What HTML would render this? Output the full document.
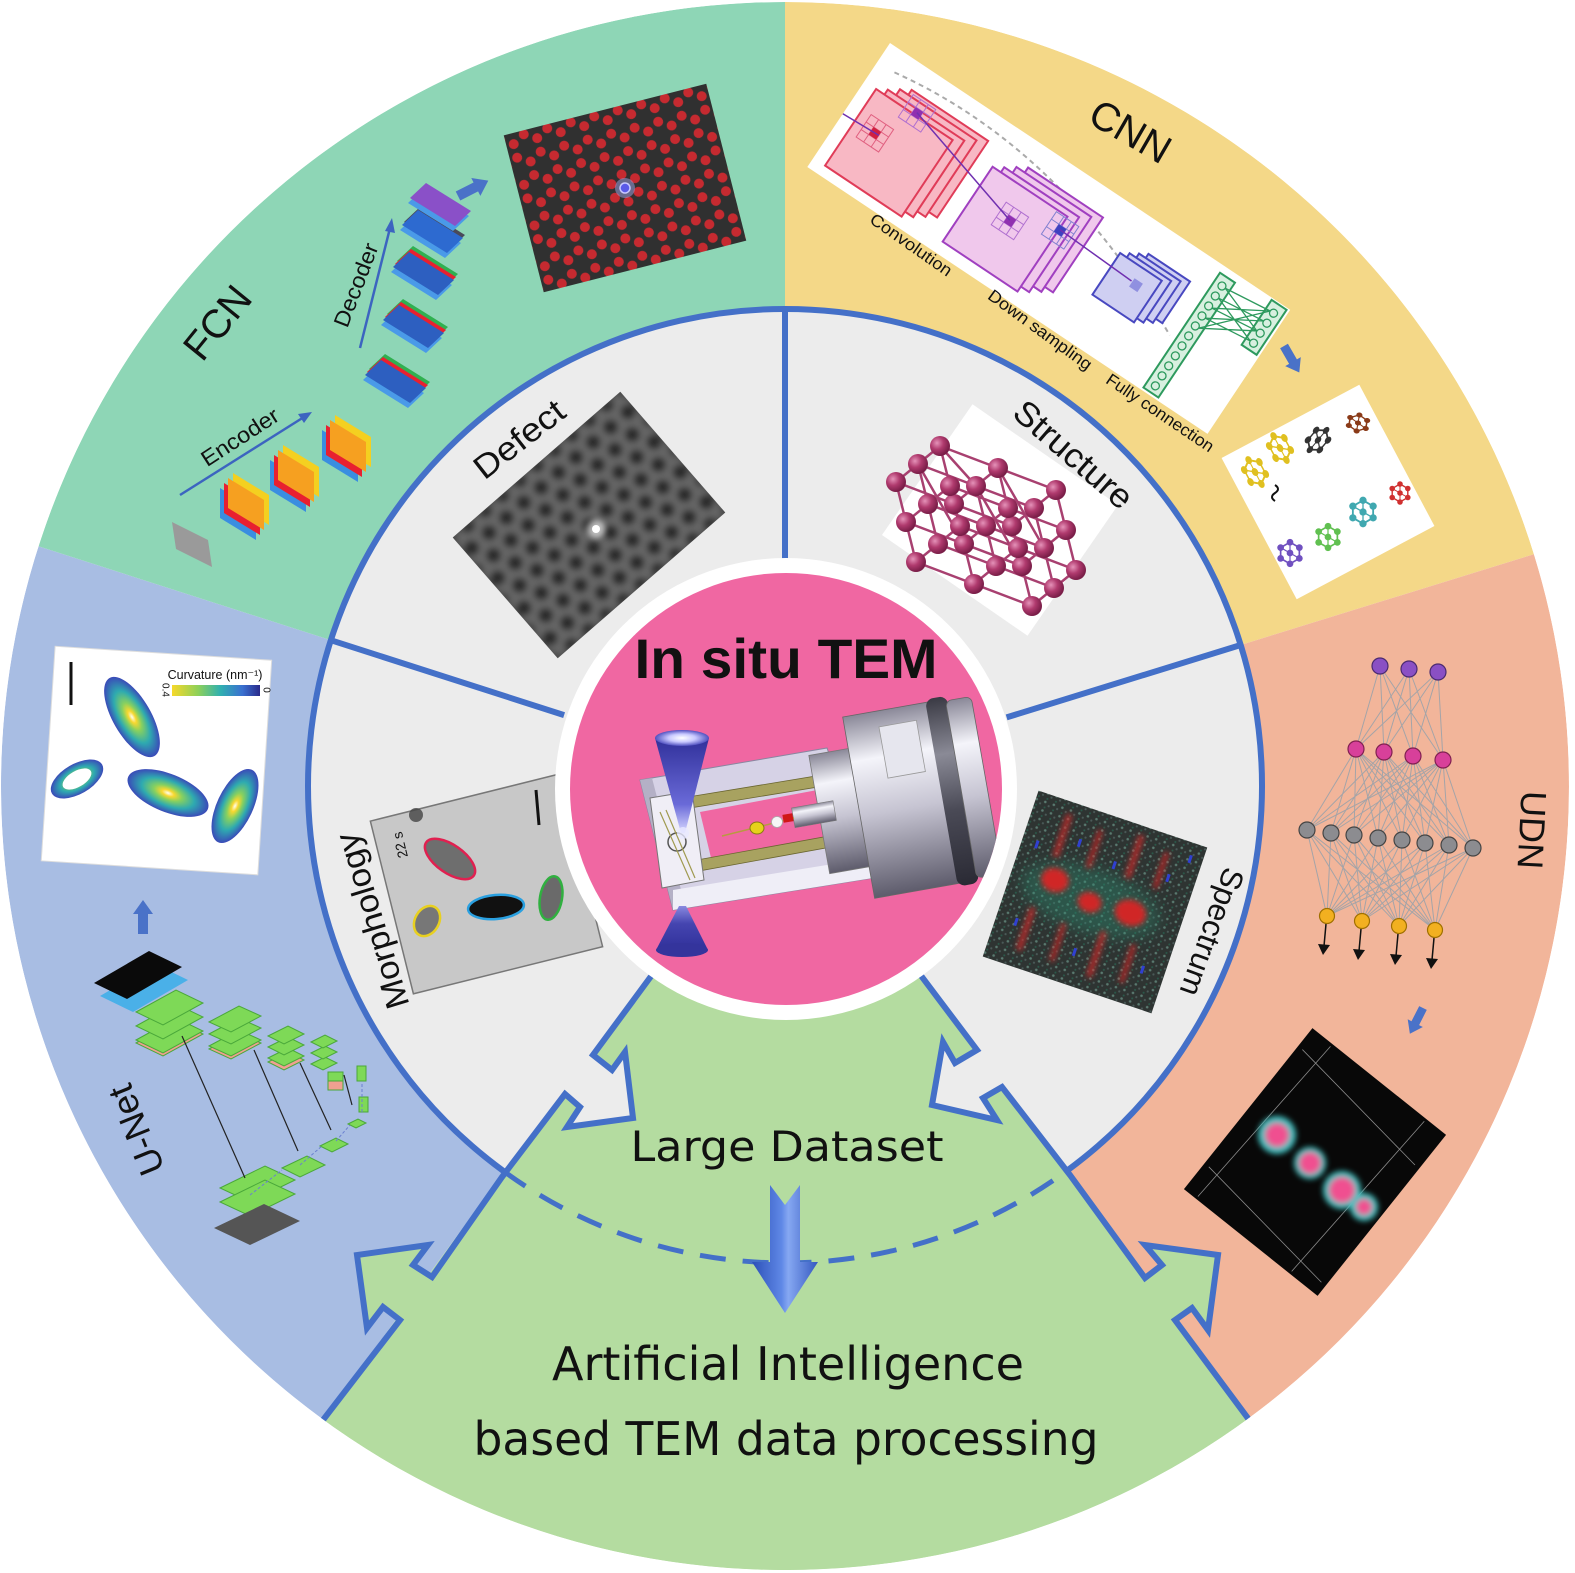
<!DOCTYPE html>
<html><head><meta charset="utf-8"><style>
html,body{margin:0;padding:0;background:#fff;}
svg{display:block;}
text{font-family:"Liberation Sans",sans-serif;fill:#111;}
</style></head><body>
<svg width="1575" height="1573" viewBox="0 0 1575 1573" xmlns="http://www.w3.org/2000/svg">
<defs>
 <clipPath id="outer"><circle cx="785" cy="786" r="784"/></clipPath>
 <clipPath id="pinkc"><circle cx="786" cy="789" r="216"/></clipPath>
 <clipPath id="defClip"><rect x="-111" y="-80" width="222" height="160"/></clipPath>
 <pattern id="lat" patternUnits="userSpaceOnUse" width="24.25" height="42">
  <rect width="24.25" height="42" fill="#303030"/>
  <circle cx="0" cy="14" r="5" fill="#c62a30"/><circle cx="24.25" cy="14" r="5" fill="#c62a30"/>
  <circle cx="0" cy="28" r="5" fill="#c62a30"/><circle cx="24.25" cy="28" r="5" fill="#c62a30"/>
  <circle cx="12.12" cy="7" r="5" fill="#c62a30"/><circle cx="12.12" cy="35" r="5" fill="#c62a30"/>
 </pattern>
 <pattern id="honey" patternUnits="userSpaceOnUse" width="23" height="39.8">
  <rect width="23" height="39.8" fill="#666666"/>
  <circle cx="0" cy="0" r="7.5" fill="#2a2a2a"/><circle cx="23" cy="0" r="7.5" fill="#2a2a2a"/>
  <circle cx="11.5" cy="19.9" r="7.5" fill="#2a2a2a"/>
  <circle cx="0" cy="39.8" r="7.5" fill="#2a2a2a"/><circle cx="23" cy="39.8" r="7.5" fill="#2a2a2a"/>
 </pattern>
 <pattern id="dots" patternUnits="userSpaceOnUse" width="9" height="9">
  <rect width="9" height="9" fill="#2e3432"/>
  <circle cx="2" cy="2" r="1.3" fill="#5a7a70"/><circle cx="6.5" cy="5" r="1.1" fill="#4a5a58"/><circle cx="3" cy="7.5" r="1" fill="#2a5a4a"/>
 </pattern>
 <filter id="b2" x="-10%" y="-10%" width="120%" height="120%"><feGaussianBlur stdDeviation="3.2"/></filter>
 <filter id="b6" x="-50%" y="-50%" width="200%" height="200%"><feGaussianBlur stdDeviation="7"/></filter>
 <filter id="b3" x="-50%" y="-50%" width="200%" height="200%"><feGaussianBlur stdDeviation="3"/></filter>
 <radialGradient id="rod" cx="0.5" cy="0.5" r="0.5">
  <stop offset="0" stop-color="#fffef0"/><stop offset="0.15" stop-color="#f8d830"/>
  <stop offset="0.35" stop-color="#86d060"/><stop offset="0.65" stop-color="#2eaab0"/>
  <stop offset="1" stop-color="#3a4ab8"/>
 </radialGradient>
 <linearGradient id="cbar" x1="0" x2="1" y1="0" y2="0">
  <stop offset="0" stop-color="#f6d82a"/><stop offset="0.3" stop-color="#8cd05a"/>
  <stop offset="0.55" stop-color="#30b0b0"/><stop offset="0.8" stop-color="#3a70d0"/><stop offset="1" stop-color="#2a2a8a"/>
 </linearGradient>
 <radialGradient id="sph" cx="0.35" cy="0.35" r="0.65">
  <stop offset="0" stop-color="#e592b8"/><stop offset="0.5" stop-color="#b03a6e"/><stop offset="1" stop-color="#7a1e48"/>
 </radialGradient>
 <linearGradient id="cyl" x1="0" x2="0" y1="0" y2="1">
  <stop offset="0" stop-color="#8a8898"/><stop offset="0.25" stop-color="#f4f4fa"/>
  <stop offset="0.55" stop-color="#c6c4d2"/><stop offset="1" stop-color="#5e5c6c"/>
 </linearGradient>
 <linearGradient id="cylDark" x1="0" x2="0" y1="0" y2="1">
  <stop offset="0" stop-color="#3a3a44"/><stop offset="0.3" stop-color="#8a8a96"/>
  <stop offset="0.6" stop-color="#4a4a56"/><stop offset="1" stop-color="#2a2a34"/>
 </linearGradient>
 <linearGradient id="beam1" x1="0" x2="0" y1="0" y2="1">
  <stop offset="0" stop-color="#30309a"/><stop offset="0.7" stop-color="#6a6ad8"/><stop offset="1" stop-color="#d8d8ff"/>
 </linearGradient>
 <linearGradient id="beam2" x1="0" x2="0" y1="0" y2="1">
  <stop offset="0" stop-color="#8a8ae0"/><stop offset="0.4" stop-color="#4545b0"/><stop offset="1" stop-color="#30309a"/>
 </linearGradient>
 <radialGradient id="beamTop" cx="0.5" cy="0.5" r="0.5">
  <stop offset="0" stop-color="#ffffff"/><stop offset="0.5" stop-color="#c8c8ff"/><stop offset="1" stop-color="#5050c0"/>
 </radialGradient>
 <linearGradient id="bigArrow" x1="0" x2="1" y1="0" y2="0">
  <stop offset="0" stop-color="#2c50b8"/><stop offset="0.45" stop-color="#5f88e6"/><stop offset="0.55" stop-color="#86a8f2"/><stop offset="1" stop-color="#3458c0"/>
 </linearGradient>
 <g id="mol"><polygon points="0,-9 7.8,-4.5 7.8,4.5 0,9 -7.8,4.5 -7.8,-4.5" fill="none" stroke="currentColor" stroke-width="1.4"/>
  <line x1="0" y1="-9" x2="0" y2="9" stroke="currentColor" stroke-width="1"/><line x1="-7.8" y1="-4.5" x2="7.8" y2="4.5" stroke="currentColor" stroke-width="1"/>
  <g fill="currentColor"><circle cx="0" cy="-9" r="2.8"/><circle cx="7.8" cy="-4.5" r="2.8"/><circle cx="7.8" cy="4.5" r="2.8"/><circle cx="0" cy="9" r="2.8"/><circle cx="-7.8" cy="4.5" r="2.8"/><circle cx="-7.8" cy="-4.5" r="2.8"/><circle cx="0" cy="0" r="2.8"/></g></g>
 <polygon id="blk" points="0,-5 20,-5 20,-10 34,0 20,10 20,5 0,5"/>
</defs>

<!-- outer sectors -->
<g clip-path="url(#outer)">
 <path d="M785,786 L785,2 A784,784 0 0 1 1533.9,554.2 Z" fill="#f4d888"/>
 <path d="M785,786 L1533.9,554.2 A784,784 0 0 1 1248,1418.7 Z" fill="#f2b59a"/>
 <path d="M785,786 L1248,1418.7 A784,784 0 0 1 323.1,1419.5 Z" fill="#b4dca0"/>
 <path d="M785,786 L323.1,1419.5 A784,784 0 0 1 38.5,546.3 Z" fill="#a8bde3"/>
 <path d="M785,786 L38.5,546.3 A784,784 0 0 1 785,2 Z" fill="#8ed6b6"/>
 <circle cx="785" cy="786" r="477" fill="#ececec"/>
 <path d="M785,880 L663,960 L593,1055 L612,1070 L625,1052 L633,1118 L567,1127 L580,1107 L565,1094 L502,1177 L432,1277 L413,1265 L428,1245 L357,1255 L367,1328 L383,1307 L400,1320 L323,1420 L290,1465 L785,1650 L1280,1465 L1247,1417 L1175,1320 L1192,1308 L1208,1330 L1218,1255 L1145,1245 L1162,1265 L1145,1278 L1070,1175 L1002,1087 L983,1098 L997,1120 L932,1105 L943,1042 L955,1063 L977,1050 L913,965 Z" fill="#b4dca0"/>
 <g fill="none" stroke="#4470c8" stroke-width="6" stroke-linejoin="miter">
  <path d="M504,1171.4 A477,477 0 1 1 1066.7,1170.9"/>
  <path d="M504,1171.4 A477,477 0 0 0 1066.7,1170.9" stroke-width="5" stroke-dasharray="26 17"/>
  <path d="M785,309 L785,560"/>
  <path d="M330.8,640.2 L564.1,715.1"/>
  <path d="M1240.7,645 L1006.6,717.4"/>
  <path d="M663,960 L593,1055 L612,1070 L625,1052 L633,1118 L567,1127 L580,1107 L565,1094 L502,1177 L432,1277 L413,1265 L428,1245 L357,1255 L367,1328 L383,1307 L400,1320 L323,1420 L300,1452"/>
  <path d="M913,965 L977,1050 L955,1063 L943,1042 L932,1105 L997,1120 L983,1098 L1002,1087 L1070,1175 L1145,1278 L1162,1265 L1145,1245 L1218,1255 L1208,1330 L1192,1308 L1175,1320 L1247,1417 L1270,1450"/>
 </g>
</g>

<!-- FCN sector -->
<g transform="translate(625,188) rotate(-14.3)">
 <rect x="-104.5" y="-81" width="209" height="162" fill="url(#lat)"/>
 <circle cx="0" cy="0" r="10" fill="#b0b4ff" opacity="0.45"/>
 <circle cx="0" cy="0" r="5" fill="#5a5ae8" stroke="#c8c8ff" stroke-width="1.5"/>
</g>
<use href="#blk" transform="translate(458,196) rotate(-27)" fill="#4a72c8"/>
<polygon points="172,522 208,540 212,567 176,549" fill="#9a9a9a"/>
<g>
 <g transform="translate(228,478)"><polygon points="5,-5 41,17 41,47 5,25" fill="#f4d020"/><polygon points="-8,10 28,32 28,62 -8,40" fill="#3a8ee0"/><polygon points="-4,5 32,27 32,57 -4,35" fill="#e82030"/><polygon points="0,0 36,22 36,52 0,30" fill="#f6a020"/></g>
 <g transform="translate(278,450)"><polygon points="5,-5 41,17 41,47 5,25" fill="#f4d020"/><polygon points="-8,10 28,32 28,62 -8,40" fill="#3a8ee0"/><polygon points="-4,5 32,27 32,57 -4,35" fill="#e82030"/><polygon points="0,0 36,22 36,52 0,30" fill="#f6a020"/></g>
 <g transform="translate(330,420)"><polygon points="5,-5 41,17 41,47 5,25" fill="#f4d020"/><polygon points="-8,10 28,32 28,62 -8,40" fill="#3a8ee0"/><polygon points="-4,5 32,27 32,57 -4,35" fill="#e82030"/><polygon points="0,0 36,22 36,52 0,30" fill="#f6a020"/></g>
</g>
<line x1="180" y1="495" x2="304" y2="417" stroke="#3c64c0" stroke-width="2.5"/>
<polygon points="312,412 298,414 304,423" fill="#3c64c0"/>
<text transform="translate(240,437) rotate(-33)" text-anchor="middle" dominant-baseline="central" font-size="22" textLength="88" lengthAdjust="spacingAndGlyphs">Encoder</text>
<g>
 <g transform="translate(365,360)"><polygon points="-2,20 14,5 59,33 43,48" fill="#4a9ae8"/><polygon points="4,9 20,-6 65,22 49,37" fill="#30b050"/><polygon points="2,12 18,-3 63,25 47,40" fill="#e82030"/><polygon points="0,15 16,0 61,28 45,43" fill="#2d5fc0"/></g>
 <g transform="translate(383,305)"><polygon points="-2,20 14,5 59,33 43,48" fill="#4a9ae8"/><polygon points="4,9 20,-6 65,22 49,37" fill="#30b050"/><polygon points="2,12 18,-3 63,25 47,40" fill="#e82030"/><polygon points="0,15 16,0 61,28 45,43" fill="#2d5fc0"/></g>
 <g transform="translate(393,252)"><polygon points="-2,20 14,5 59,33 43,48" fill="#4a9ae8"/><polygon points="4,9 20,-6 65,22 49,37" fill="#30b050"/><polygon points="2,12 18,-3 63,25 47,40" fill="#e82030"/><polygon points="0,15 16,0 61,28 45,43" fill="#2d5fc0"/></g>
 <g transform="translate(402,210)"><polygon points="-2,20 14,5 59,33 43,48" fill="#4a9ae8"/><polygon points="2,12 18,-3 63,25 47,40" fill="#4a4a5a"/><polygon points="0,15 16,0 61,28 45,43" fill="#2d6ad0"/></g>
 <g transform="translate(408,188)"><polygon points="0,15 16,0 61,28 45,43" fill="#4a9ae8"/><polygon points="2,10 18,-5 63,23 47,38" fill="#8a50c8"/></g>
</g>
<line x1="360" y1="348" x2="390" y2="228" stroke="#3c64c0" stroke-width="2.5"/>
<polygon points="392,218 385,231 395,233" fill="#3c64c0"/>
<text transform="translate(356,285) rotate(-69)" text-anchor="middle" dominant-baseline="central" font-size="22" textLength="88" lengthAdjust="spacingAndGlyphs">Decoder</text>
<text transform="translate(218,323) rotate(-51)" text-anchor="middle" dominant-baseline="central" font-size="40">FCN</text>

<!-- Defect -->
<g transform="translate(589,525) rotate(-41)">
 <rect x="-111" y="-80" width="222" height="160" fill="#4e4e4e"/>
 <rect x="-111" y="-80" width="222" height="160" fill="url(#honey)" filter="url(#b2)" clip-path="url(#defClip)"/>
</g>
<circle cx="596" cy="529" r="9" fill="#ffffff" opacity="0.6" filter="url(#b3)"/>
<circle cx="596" cy="529" r="4" fill="#ffffff"/>
<text transform="translate(519,439) rotate(-38)" text-anchor="middle" dominant-baseline="central" font-size="33" textLength="106" lengthAdjust="spacingAndGlyphs">Defect</text>

<!-- CNN panel -->
<g transform="translate(890,43) rotate(33.7)">
 <rect x="0" y="0" width="481" height="149" fill="#ffffff"/>
 <path d="M20,22 Q200,-8 395,88" fill="none" stroke="#aaa" stroke-width="2" stroke-dasharray="5 4"/>
 <g fill="#f8b8c4" stroke="#e03c58" stroke-width="2">
  <rect x="44" y="27" width="92" height="92"/><rect x="34" y="33" width="92" height="92"/><rect x="24" y="40" width="92" height="92"/><rect x="14" y="46" width="92" height="92"/>
 </g>
 <g fill="#f0c8ec" stroke="#a040c0" stroke-width="2">
  <rect x="184" y="27" width="90" height="90"/><rect x="174" y="33" width="90" height="90"/><rect x="164" y="40" width="90" height="90"/><rect x="154" y="46" width="90" height="90"/>
 </g>
 <g fill="#cfcff2" stroke="#4848c0" stroke-width="2">
  <rect x="332" y="32" width="50" height="50"/><rect x="324" y="37" width="50" height="50"/><rect x="316" y="42" width="50" height="50"/><rect x="308" y="47" width="50" height="50"/>
 </g>
 <g fill="none" stroke="#e06080" stroke-width="1"><rect x="24" y="70" width="27" height="27"/><path d="M33,70V97M42,70V97M24,79H51M24,88H51"/></g>
 <rect x="33" y="79" width="9" height="9" fill="#d02040"/>
 <g fill="none" stroke="#b070d0" stroke-width="1"><rect x="48" y="30" width="27" height="27"/><path d="M57,30V57M66,30V57M48,39H75M48,48H75"/></g>
 <rect x="57" y="39" width="9" height="9" fill="#9030b0"/>
 <g fill="none" stroke="#b070d0" stroke-width="1"><rect x="185" y="68" width="27" height="27"/><path d="M194,68V95M203,68V95M185,77H212M185,86H212"/></g>
 <rect x="194" y="77" width="9" height="9" fill="#9030b0"/>
 <g fill="none" stroke="#8080d0" stroke-width="1"><rect x="232" y="48" width="27" height="27"/><path d="M241,48V75M250,48V75M232,57H259M232,66H259"/></g>
 <rect x="241" y="57" width="9" height="9" fill="#4040c0"/>
 <path d="M0,85 L42,83 M61,43 L198,81 M245,61 L333,64" stroke="#7030b0" stroke-width="1.5" fill="none"/>
 <rect x="334" y="60" width="10" height="10" fill="#9090e0"/>
 <rect x="402" y="8" width="18" height="138" fill="#d8f0e0" stroke="#2e9a5e" stroke-width="2"/>
 <rect x="460" y="2" width="18" height="54" fill="#d8f0e0" stroke="#2e9a5e" stroke-width="2"/>
 <g fill="none" stroke="#2e9a5e" stroke-width="1.3">
  <circle cx="411" cy="18" r="4"/><circle cx="411" cy="30" r="4"/><circle cx="411" cy="42" r="4"/><circle cx="411" cy="54" r="4"/><circle cx="411" cy="66" r="4"/><circle cx="411" cy="78" r="4"/><circle cx="411" cy="90" r="4"/><circle cx="411" cy="102" r="4"/><circle cx="411" cy="114" r="4"/><circle cx="411" cy="126" r="4"/><circle cx="411" cy="138" r="4"/>
  <circle cx="469" cy="12" r="4"/><circle cx="469" cy="24" r="4"/><circle cx="469" cy="36" r="4"/><circle cx="469" cy="48" r="4"/>
  <path d="M415,18L465,12M415,18L465,36M415,30L465,24M415,30L465,48M415,42L465,12M415,42L465,36M415,54L465,24M415,54L465,48M415,66L465,12M415,66L465,36"/>
 </g>
</g>
<text transform="translate(911,245) rotate(35)" text-anchor="middle" dominant-baseline="central" font-size="17" textLength="96" lengthAdjust="spacingAndGlyphs">Convolution</text>
<text transform="translate(1040,330) rotate(36)" text-anchor="middle" dominant-baseline="central" font-size="17" textLength="124" lengthAdjust="spacingAndGlyphs">Down sampling</text>
<text transform="translate(1160,413) rotate(34)" text-anchor="middle" dominant-baseline="central" font-size="17" textLength="126" lengthAdjust="spacingAndGlyphs">Fully connection</text>
<text transform="translate(1130,132) rotate(30)" text-anchor="middle" dominant-baseline="central" font-size="40">CNN</text>
<use href="#blk" transform="translate(1284,346) rotate(60) scale(0.9)" fill="#4a72c8"/>

<!-- molecules panel -->
<g transform="translate(1328,492) rotate(-28)">
 <rect x="-78" y="-80" width="156" height="160" fill="#ffffff"/>
</g>
<use href="#mol" transform="translate(1255,472) rotate(-28) scale(1.1,1.5)" color="#e0c020"/>
<use href="#mol" transform="translate(1280,448) rotate(-28) scale(1.1,1.5)" color="#e0c020"/>
<use href="#mol" transform="translate(1318,440) rotate(40) scale(1,1.4)" color="#333333"/>
<use href="#mol" transform="translate(1358,423) rotate(10) scale(1.1,0.9)" color="#8a3a18"/>
<use href="#mol" transform="translate(1400,493)" color="#d03030"/>
<use href="#mol" transform="translate(1363,512) scale(1.3)" color="#40a8b0"/>
<use href="#mol" transform="translate(1328,537) scale(1.2)" color="#60c050"/>
<use href="#mol" transform="translate(1290,553) scale(1.2)" color="#7050c0"/>
<path d="M1275,485 q6,4 0,8 q-6,4 0,8" fill="none" stroke="#111" stroke-width="2"/>

<!-- Structure -->
<g transform="translate(1000,520) rotate(34.7)"><rect x="-88.5" y="-79.5" width="177" height="159" fill="#ffffff"/></g>
<path d="M940,446L1056,490M918,464L1034,508M896,482L1012,526M950,486L1066,530M928,504L1044,548M906,522L1022,566M960,526L1076,570M938,544L1054,588M916,562L1032,606M940,446L896,482M998,468L954,504M1056,490L1012,526M950,486L906,522M1008,508L964,544M1066,530L1022,566M960,526L916,562M1018,548L974,584M1076,570L1032,606M940,446L960,526M998,468L1018,548M1056,490L1076,570M918,464L938,544M976,486L996,566M1034,508L1054,588M896,482L916,562M954,504L974,584M1012,526L1032,606M940,446L976,486M998,468L1044,548M918,464L964,544M976,486L1022,566" stroke="#a84070" stroke-width="2.5" fill="none"/>
<g fill="url(#sph)">
 <circle cx="940" cy="446" r="10"/><circle cx="998" cy="468" r="10"/><circle cx="1056" cy="490" r="10"/>
 <circle cx="918" cy="464" r="10"/><circle cx="976" cy="486" r="10"/><circle cx="1034" cy="508" r="10"/>
 <circle cx="896" cy="482" r="10"/><circle cx="954" cy="504" r="10"/><circle cx="1012" cy="526" r="10"/>
 <circle cx="950" cy="486" r="10"/><circle cx="1008" cy="508" r="10"/><circle cx="1066" cy="530" r="10"/>
 <circle cx="928" cy="504" r="10"/><circle cx="986" cy="526" r="10"/><circle cx="1044" cy="548" r="10"/>
 <circle cx="906" cy="522" r="10"/><circle cx="964" cy="544" r="10"/><circle cx="1022" cy="566" r="10"/>
 <circle cx="960" cy="526" r="10"/><circle cx="1018" cy="548" r="10"/><circle cx="1076" cy="570" r="10"/>
 <circle cx="938" cy="544" r="10"/><circle cx="996" cy="566" r="10"/><circle cx="1054" cy="588" r="10"/>
 <circle cx="916" cy="562" r="10"/><circle cx="974" cy="584" r="10"/><circle cx="1032" cy="606" r="10"/>
</g>
<text transform="translate(1073,455) rotate(41)" text-anchor="middle" dominant-baseline="central" font-size="34" textLength="146" lengthAdjust="spacingAndGlyphs">Structure</text>

<!-- U-Net sector -->
<g transform="translate(156,760) rotate(3.7)"><rect x="-108" y="-107" width="217" height="215" fill="#ffffff" stroke="#ddd" stroke-width="1"/></g>
<line x1="71" y1="662" x2="71" y2="705" stroke="#111" stroke-width="3"/>
<text x="215" y="679" text-anchor="middle" font-size="12.5">Curvature (nm⁻¹)</text>
<rect x="172" y="685" width="88" height="11" fill="url(#cbar)"/>
<text transform="translate(165,690) rotate(90)" text-anchor="middle" dominant-baseline="central" font-size="10">0.4</text>
<text transform="translate(266,690) rotate(90)" text-anchor="middle" dominant-baseline="central" font-size="10">0</text>
<ellipse cx="132" cy="717" rx="45" ry="19" fill="url(#rod)" transform="rotate(60 132 717)"/>
<ellipse cx="77" cy="779" rx="29" ry="15" fill="url(#rod)" transform="rotate(-30 77 779)"/>
<ellipse cx="77" cy="779" rx="16" ry="8" fill="#ffffff" transform="rotate(-30 77 779)"/>
<ellipse cx="168" cy="793" rx="43" ry="19" fill="url(#rod)" transform="rotate(22 168 793)"/>
<ellipse cx="235" cy="806" rx="40" ry="18" fill="url(#rod)" transform="rotate(-65 235 806)"/>
<use href="#blk" transform="translate(143,934) rotate(-90)" fill="#4a72c8"/>
<g>
 <polygon points="100,996 155,964 188,980 133,1012" fill="#4ab0e8"/>
 <polygon points="94,983 149,951 182,967 127,999" fill="#0a0a0a"/>
 <g fill="#7ed957" stroke="#4aa83a" stroke-width="1">
  <polygon points="136,1043 176,1021 203,1034 163,1056" fill="#f0a090"/>
  <polygon points="136,1040 176,1018 203,1031 163,1053"/>
  <polygon points="136,1026 176,1004 203,1017 163,1039"/>
  <polygon points="136,1012 176,990 203,1003 163,1025"/>
  <polygon points="209,1049 239,1033 261,1043 231,1059" fill="#f0a090"/>
  <polygon points="209,1046 239,1030 261,1040 231,1056"/>
  <polygon points="209,1034 239,1018 261,1028 231,1044"/>
  <polygon points="209,1022 239,1006 261,1016 231,1032"/>
  <polygon points="268,1062 288,1052 304,1060 284,1070" fill="#f0a090"/>
  <polygon points="268,1058 288,1048 304,1056 284,1066"/>
  <polygon points="268,1047 288,1037 304,1045 284,1055"/>
  <polygon points="268,1036 288,1026 304,1034 284,1044"/>
  <polygon points="311,1064 325,1057 337,1063 323,1070"/>
  <polygon points="311,1053 325,1046 337,1052 323,1059"/>
  <polygon points="311,1042 325,1035 337,1041 323,1048"/>
  <rect x="328" y="1080" width="15" height="10" fill="#f0a090"/>
  <rect x="328" y="1072" width="15" height="9"/>
  <rect x="357" y="1066" width="9" height="15"/>
  <rect x="359" y="1097" width="9" height="15"/>
  <polygon points="348,1124 358,1119 366,1123 356,1128"/>
  <polygon points="320,1146 336,1138 348,1144 332,1152"/>
  <polygon points="282,1168 307,1156 325,1165 300,1177"/>
  <polygon points="220,1188 265,1166 295,1180 250,1202"/>
  <polygon points="220,1202 265,1180 295,1194 250,1216"/>
 </g>
 <polygon points="214,1228 264,1204 300,1221 250,1245" fill="#555"/>
 <g stroke="#222" stroke-width="1.2"><line x1="182" y1="1036" x2="245" y2="1178"/><line x1="254" y1="1050" x2="298" y2="1151"/><line x1="300" y1="1063" x2="331" y2="1130"/><line x1="344" y1="1075" x2="352" y2="1105"/></g>
 <g stroke="#6a80d0" stroke-width="1" stroke-dasharray="3 2"><line x1="250" y1="1195" x2="282" y2="1170"/><line x1="300" y1="1165" x2="322" y2="1146"/><line x1="336" y1="1141" x2="350" y2="1125"/><line x1="362" y1="1112" x2="362" y2="1082"/></g>
</g>
<text transform="translate(136,1130) rotate(-112)" text-anchor="middle" dominant-baseline="central" font-size="36">U-Net</text>

<!-- Morphology -->
<g transform="translate(486,884) rotate(-14)"><rect x="-97" y="-89" width="195" height="178" fill="#c8c8c8" stroke="#777" stroke-width="1.5"/></g>
<circle cx="416" cy="815" r="7" fill="#444" opacity="0.8"/>
<ellipse cx="450" cy="859" rx="29" ry="14" fill="#6e6e6e" stroke="#e02050" stroke-width="2.5" transform="rotate(35 450 859)"/>
<ellipse cx="496" cy="907" rx="28" ry="12" fill="#111" stroke="#2aa0e0" stroke-width="2.5" transform="rotate(-5 496 907)"/>
<ellipse cx="551" cy="898" rx="11" ry="22" fill="#6a6a6a" stroke="#30b040" stroke-width="2.5" transform="rotate(10 551 898)"/>
<ellipse cx="427" cy="921" rx="12" ry="16" fill="#777" stroke="#e8d020" stroke-width="2.5" transform="rotate(30 427 921)"/>
<line x1="536" y1="790" x2="539" y2="825" stroke="#111" stroke-width="3"/>
<text transform="translate(400,845) rotate(-104)" text-anchor="middle" dominant-baseline="central" font-size="14">22 s</text>
<text transform="translate(372,921) rotate(-107)" text-anchor="middle" dominant-baseline="central" font-size="33" textLength="182" lengthAdjust="spacingAndGlyphs">Morphology</text>

<!-- Spectrum -->
<g transform="translate(1095,902) rotate(18.6)">
 <rect x="-89" y="-87.5" width="178" height="175" fill="url(#dots)"/>
 <ellipse cx="-5" cy="0" rx="72" ry="32" fill="#2a8a70" opacity="0.4" filter="url(#b6)"/>
 <g fill="#d02828" filter="url(#b3)">
  <ellipse cx="-45" cy="-8" rx="14" ry="12"/><ellipse cx="-5" cy="2" rx="12" ry="10"/><ellipse cx="37" cy="-1" rx="16" ry="13"/>
  <rect x="-55" y="-75" width="6" height="45" opacity="0.8"/><rect x="-20" y="-70" width="5" height="40" opacity="0.8"/><rect x="20" y="-78" width="6" height="45" opacity="0.8"/><rect x="50" y="-70" width="5" height="38" opacity="0.8"/>
  <rect x="-60" y="25" width="6" height="45" opacity="0.8"/><rect x="-25" y="30" width="5" height="40" opacity="0.8"/><rect x="15" y="25" width="6" height="48" opacity="0.8"/><rect x="48" y="28" width="5" height="40" opacity="0.8"/>
 </g>
 <g fill="#3040d0"><rect x="-75" y="-40" width="3" height="8"/><rect x="-35" y="-55" width="3" height="8"/><rect x="5" y="-45" width="3" height="8"/><rect x="60" y="-50" width="3" height="8"/><rect x="-70" y="40" width="3" height="8"/><rect x="-5" y="50" width="3" height="8"/><rect x="65" y="45" width="3" height="8"/><rect x="75" y="-75" width="3" height="8"/></g>
</g>
<text transform="translate(1212,932) rotate(110)" text-anchor="middle" dominant-baseline="central" font-size="31" textLength="134" lengthAdjust="spacingAndGlyphs">Spectrum</text>

<!-- UDN network -->
<g stroke="#a4a4a8" stroke-width="1" fill="none">
 <path d="M1380 666L1356 749M1380 666L1384 752M1380 666L1413 756M1380 666L1443 760M1409 669L1356 749M1409 669L1384 752M1409 669L1413 756M1409 669L1443 760M1438 672L1356 749M1438 672L1384 752M1438 672L1413 756M1438 672L1443 760"/>
 <path d="M1356 749L1307 830M1356 749L1331 833M1356 749L1354 835M1356 749L1378 838M1356 749L1402 840M1356 749L1425 843M1356 749L1449 845M1356 749L1473 848"/>
 <path d="M1384 752L1307 830M1384 752L1331 833M1384 752L1354 835M1384 752L1378 838M1384 752L1402 840M1384 752L1425 843M1384 752L1449 845M1384 752L1473 848"/>
 <path d="M1413 756L1307 830M1413 756L1331 833M1413 756L1354 835M1413 756L1378 838M1413 756L1402 840M1413 756L1425 843M1413 756L1449 845M1413 756L1473 848"/>
 <path d="M1443 760L1307 830M1443 760L1331 833M1443 760L1354 835M1443 760L1378 838M1443 760L1402 840M1443 760L1425 843M1443 760L1449 845M1443 760L1473 848"/>
 <path d="M1327 916L1307 830M1327 916L1331 833M1327 916L1354 835M1327 916L1378 838M1327 916L1402 840M1327 916L1425 843M1327 916L1449 845M1327 916L1473 848"/>
 <path d="M1362 921L1307 830M1362 921L1331 833M1362 921L1354 835M1362 921L1378 838M1362 921L1402 840M1362 921L1425 843M1362 921L1449 845M1362 921L1473 848"/>
 <path d="M1399 926L1307 830M1399 926L1331 833M1399 926L1354 835M1399 926L1378 838M1399 926L1402 840M1399 926L1425 843M1399 926L1449 845M1399 926L1473 848"/>
 <path d="M1435 930L1307 830M1435 930L1331 833M1435 930L1354 835M1435 930L1378 838M1435 930L1402 840M1435 930L1425 843M1435 930L1449 845M1435 930L1473 848"/>
</g>
<g stroke="#4a2a70" stroke-width="1.2" fill="#8a50c4"><circle cx="1380" cy="666" r="8"/><circle cx="1409" cy="669" r="8"/><circle cx="1438" cy="672" r="8"/></g>
<g stroke="#802050" stroke-width="1.2" fill="#d8409a"><circle cx="1356" cy="749" r="8"/><circle cx="1384" cy="752" r="8"/><circle cx="1413" cy="756" r="8"/><circle cx="1443" cy="760" r="8"/></g>
<g stroke="#444" stroke-width="1.2" fill="#8c8c90"><circle cx="1307" cy="830" r="8"/><circle cx="1331" cy="833" r="8"/><circle cx="1354" cy="835" r="8"/><circle cx="1378" cy="838" r="8"/><circle cx="1402" cy="840" r="8"/><circle cx="1425" cy="843" r="8"/><circle cx="1449" cy="845" r="8"/><circle cx="1473" cy="848" r="8"/></g>
<g stroke="#111" stroke-width="1.5"><line x1="1326" y1="924" x2="1324" y2="946"/><line x1="1361" y1="929" x2="1359" y2="951"/><line x1="1398" y1="934" x2="1396" y2="956"/><line x1="1434" y1="938" x2="1432" y2="960"/></g>
<g fill="#111"><polygon points="1318,944 1330,945 1323,955"/><polygon points="1353,949 1365,950 1358,960"/><polygon points="1390,954 1402,955 1395,965"/><polygon points="1426,958 1438,959 1431,969"/></g>
<g stroke="#a07000" stroke-width="1.2" fill="#f2b020"><circle cx="1327" cy="916" r="7.5"/><circle cx="1362" cy="921" r="7.5"/><circle cx="1399" cy="926" r="7.5"/><circle cx="1435" cy="930" r="7.5"/></g>
<text transform="translate(1532,830) rotate(93)" text-anchor="middle" dominant-baseline="central" font-size="36">UDN</text>
<use href="#blk" transform="translate(1423,1008) rotate(117) scale(0.85)" fill="#4a72c8"/>

<!-- 3D dark image -->
<g transform="translate(1315,1162) rotate(38.6)">
 <rect x="-85.5" y="-103" width="171" height="206" fill="#080808"/>
 <g stroke="#8a8a8a" stroke-width="0.8" fill="none"><path d="M-80,-80 L80,-60 M-80,70 L80,90 M-60,-100 L-70,100 M60,-100 L50,100"/></g>
</g>
<g filter="url(#b3)">
 <circle cx="1277" cy="1135" r="19" fill="#40c0c0"/><circle cx="1310" cy="1163" r="16" fill="#40c0c0"/><circle cx="1342" cy="1190" r="19" fill="#40c0c0"/><circle cx="1364" cy="1207" r="14" fill="#40c0c0"/>
 <circle cx="1277" cy="1135" r="12" fill="#f05090"/><circle cx="1310" cy="1163" r="11" fill="#f05090"/><circle cx="1342" cy="1190" r="13" fill="#f05090"/><circle cx="1364" cy="1207" r="8" fill="#f05090"/>
</g>

<!-- center pink circle -->
<circle cx="786" cy="789" r="231" fill="#ffffff"/>
<circle cx="786" cy="789" r="216" fill="#f067a2"/>
<g clip-path="url(#pinkc)">
 <polygon points="640,780 827,748 873,878 673,910" fill="#d6d2e6" stroke="#8a86a0" stroke-width="1"/>
 <polygon points="640,780 652,778 685,905 673,910" fill="#b4b0c6"/>
 <polygon points="673,890 870,858 873,878 673,910" fill="#efeef7"/>
 <polygon points="700,812 828,788 843,838 712,862" fill="#f067a2"/>
 <polygon points="688,797 822,775 824,786 690,808" fill="#a8a260" stroke="#6a6630" stroke-width="0.8"/>
 <polygon points="697,860 840,834 842,845 699,871" fill="#a8a260" stroke="#6a6630" stroke-width="0.8"/>
 <polygon points="650,798 692,791 704,880 662,888" fill="#f0eef6" stroke="#777" stroke-width="1"/>
 <circle cx="677" cy="842" r="9" fill="none" stroke="#555" stroke-width="1.5"/>
 <path d="M660,812 L690,880 M666,810 L695,878" stroke="#a09a50" stroke-width="1.2"/>
 <g transform="translate(902,800) rotate(-10)">
  <rect x="-84" y="-60" width="42" height="120" fill="url(#cyl)" stroke="#777" stroke-width="0.8"/>
  <rect x="-44" y="-92" width="86" height="184" fill="url(#cyl)" stroke="#666" stroke-width="0.8"/>
  <rect x="-10" y="-76" width="38" height="52" fill="#e6e6ee" stroke="#999" stroke-width="0.8"/>
  <rect x="40" y="-95" width="22" height="190" rx="8" fill="url(#cylDark)"/>
  <rect x="60" y="-90" width="26" height="180" rx="6" fill="url(#cyl)" stroke="#666" stroke-width="0.8"/>
 </g>
 <g transform="translate(815,814) rotate(-10)"><rect x="-22" y="-10" width="42" height="20" fill="url(#cyl)" stroke="#777" stroke-width="0.6"/></g>
 <line x1="722" y1="836" x2="794" y2="818" stroke="#b89a40" stroke-width="1.5"/>
 <ellipse cx="757" cy="828" rx="7" ry="6" fill="#e6d21a" stroke="#8a7a10" stroke-width="1"/>
 <circle cx="777" cy="822" r="5.5" fill="#f6f6f6" stroke="#aaa" stroke-width="0.8"/>
 <g transform="translate(788,818) rotate(-10)"><rect x="-5" y="-4" width="10" height="8" fill="#d01818"/></g>
 <polygon points="655,738 709,738 685,833 681,833" fill="url(#beam1)"/>
 <ellipse cx="682" cy="738" rx="27" ry="8" fill="url(#beamTop)"/>
 <circle cx="683" cy="833" r="6" fill="#e8e8ff" opacity="0.8"/>
 <polygon points="679,906 686,906 708,950 656,950" fill="url(#beam2)"/>
 <ellipse cx="682" cy="950" rx="26" ry="7" fill="#34349c"/>
</g>
<text x="786" y="678" text-anchor="middle" font-size="56" font-weight="bold" textLength="303" lengthAdjust="spacingAndGlyphs">In situ TEM</text>

<!-- bottom -->
<polygon points="770,1185 785,1205 800,1185 800,1262 818,1262 785,1313 752,1262 770,1262" fill="url(#bigArrow)"/>
<text x="787" y="1161" text-anchor="middle" font-size="42" textLength="313" lengthAdjust="spacingAndGlyphs" style="font-family:'DejaVu Sans',sans-serif">Large Dataset</text>
<text x="788" y="1380" text-anchor="middle" font-size="46" textLength="472" lengthAdjust="spacingAndGlyphs" style="font-family:'DejaVu Sans',sans-serif">Artificial Intelligence</text>
<text x="786" y="1455" text-anchor="middle" font-size="46" textLength="625" lengthAdjust="spacingAndGlyphs" style="font-family:'DejaVu Sans',sans-serif">based TEM data processing</text>
</svg>
</body></html>
